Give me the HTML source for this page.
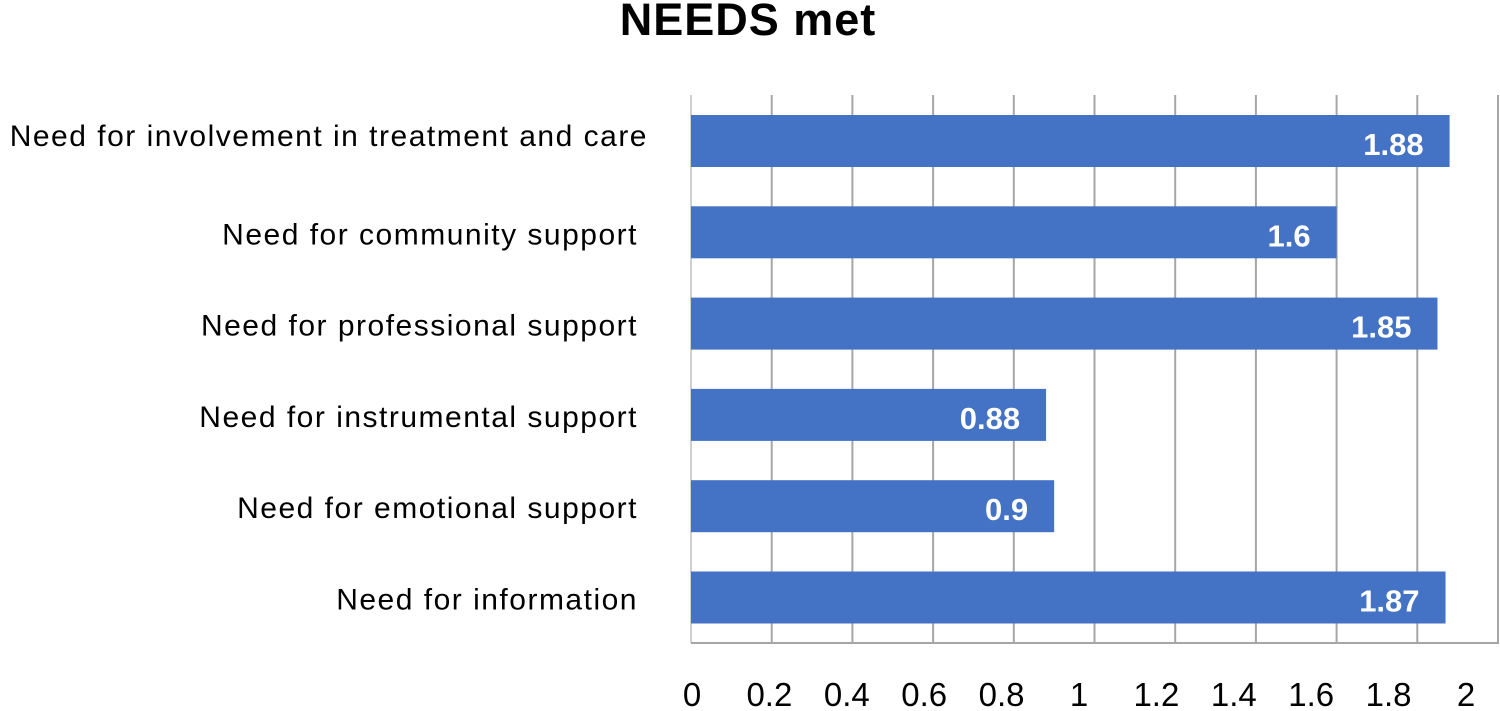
<!DOCTYPE html>
<html><head><meta charset="utf-8"><style>
body{margin:0;background:#fff;width:1500px;height:711px;overflow:hidden}
svg{display:block}
</style></head><body>
<svg width="1500" height="711">
<text x="748" y="35" text-anchor="middle" font-family="Liberation Sans, sans-serif" font-weight="bold" font-size="45" letter-spacing="1">NEEDS met</text>
<g id="grid"></g><g id="bars"></g><g id="labels"></g><g id="ticks"></g>
</svg>
<script>
const categories=["Need for involvement in treatment and care","Need for community support","Need for professional support","Need for instrumental support","Need for emotional support","Need for information"];
const values=[1.88,1.6,1.85,0.88,0.9,1.87];
const valueLabels=["1.88","1.6","1.85","0.88","0.9","1.87"];
const ticks=[0,0.2,0.4,0.6,0.8,1,1.2,1.4,1.6,1.8,2];
const tickLabels=["0","0.2","0.4","0.6","0.8","1","1.2","1.4","1.6","1.8","2"];
const NS="http://www.w3.org/2000/svg";
const x=v=>691+v*403.5;
const xl=v=>692+v*387;
const bandTop=95,bandH=91.3;
const y=i=>bandTop+i*bandH+20;
function mk(t,a,p){const e=document.createElementNS(NS,t);for(const k in a)e.setAttribute(k,a[k]);p.appendChild(e);return e;}
const G=document.getElementById('grid'),B=document.getElementById('bars'),L=document.getElementById('labels'),T=document.getElementById('ticks');
ticks.forEach((t,i)=>{
 const l=mk('line',{x1:x(t),x2:x(t),y1:bandTop,y2:643,stroke:i==0?'#d0d0d0':'#a6a6a6','stroke-width':2},G);
 
 
 const tx=mk('text',{x:xl(t),y:706,'text-anchor':'middle','font-family':'Liberation Sans Narrow, Liberation Sans, sans-serif','font-size':33},T);
 tx.textContent=tickLabels[i];
 
 
});
const ax=mk('line',{x1:691,x2:1499,y1:643,y2:643,stroke:'#a6a6a6','stroke-width':2},G);


categories.forEach((c,i)=>{
 const r=mk('rect',{x:x(0),y:y(i),width:x(values[i])-x(0),height:52,fill:'#4472c4'},B);
 
 
 const v=mk('text',{x:x(values[i])-26,y:y(i)+40,'text-anchor':'end','font-family':'Liberation Sans, sans-serif','font-weight':'bold','font-size':31,fill:'#fff'},B);
 v.textContent=valueLabels[i];
 
 
 const t=mk('text',{x:i==0?648:638,y:y(i)+(i==0?31:38),'text-anchor':'end','font-family':'Liberation Sans, sans-serif','font-size':30,'letter-spacing':1.5},L);
 t.textContent=c;
 
 
});
</script>
</body></html>
